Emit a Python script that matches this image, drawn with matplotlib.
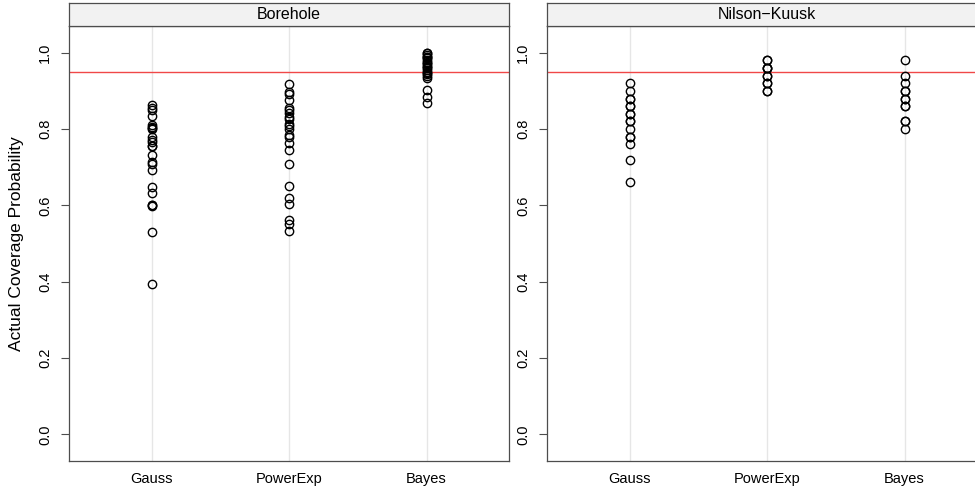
import matplotlib
matplotlib.use("Agg")
import matplotlib.pyplot as plt

plt.rcParams['font.family'] = ['Liberation Sans', 'DejaVu Sans']

methods = ['Gauss', 'PowerExp', 'Bayes']
panels = ['Borehole', 'Nilson\u2212Kuusk']

# coverage values
bore_gauss = [0.862, 0.856, 0.849, 0.834, 0.810, 0.806, 0.802, 0.799, 0.779,
              0.772, 0.766, 0.755, 0.755, 0.731, 0.714, 0.708, 0.692, 0.648,
              0.632, 0.600, 0.600, 0.598, 0.530, 0.395]
bore_powexp = [0.919, 0.897, 0.891, 0.877, 0.854, 0.849, 0.842, 0.832, 0.825,
               0.814, 0.807, 0.799, 0.784, 0.779, 0.764, 0.746, 0.708, 0.650,
               0.620, 0.603, 0.561, 0.550, 0.532]
bore_bayes = [1.000, 0.998, 0.995, 0.990, 0.988, 0.985, 0.980, 0.975, 0.972,
              0.970, 0.965, 0.962, 0.960, 0.955, 0.950, 0.948, 0.945, 0.940,
              0.935, 0.902, 0.884, 0.867]
nk_gauss = [0.92, 0.90, 0.88, 0.88, 0.86, 0.86, 0.84, 0.84, 0.82, 0.82, 0.80,
            0.78, 0.78, 0.76, 0.72, 0.66]
nk_powexp = [0.98, 0.98, 0.96, 0.96, 0.96, 0.94, 0.94, 0.92, 0.92, 0.90, 0.90]
nk_bayes = [0.98, 0.94, 0.92, 0.90, 0.90, 0.88, 0.88, 0.86, 0.86, 0.82, 0.82, 0.80]

data = [[bore_gauss, bore_powexp, bore_bayes], [nk_gauss, nk_powexp, nk_bayes]]
nominal = 0.95

fig = plt.figure(figsize=(9.75, 4.88), dpi=100)
W, H = 975.0, 488.0
lefts = [69, 547]
pw = 440
top, bot, strip_top = 26, 461, 3
edge = '#4d4d4d'

for k in range(2):
    ax = fig.add_axes([lefts[k] / W, 1 - bot / H, pw / W, (bot - top) / H])
    st = fig.add_axes([lefts[k] / W, 1 - top / H, pw / W, (top - strip_top) / H])
    for j, vals in enumerate(data[k]):
        ax.axvline(j + 1, color='#e6e6e6', lw=1, zorder=0)
        ax.plot([j + 1] * len(vals), vals, 'o', mfc='none', mec='black',
                ms=6.0, mew=1.0, zorder=3)
    ax.axhline(nominal, color='#f04848', lw=1, zorder=2)
    ax.set_xlim(0.4, 3.6)
    ax.set_ylim(-0.07, 1.07)
    ax.set_xticks([1, 2, 3])
    ax.set_xticklabels(methods, fontsize=10.5)
    ax.set_yticks([0, 0.2, 0.4, 0.6, 0.8, 1.0])
    ax.set_yticklabels(['0.0', '0.2', '0.4', '0.6', '0.8', '1.0'],
                       rotation=90, va='center', fontsize=10.5)
    ax.tick_params(axis='y', length=6, color=edge, width=0.8, pad=6)
    ax.tick_params(axis='x', length=0, pad=8)
    for s in ax.spines.values():
        s.set_color(edge)
        s.set_linewidth(0.9)

    st.set_facecolor('#f2f2f2')
    st.set_xticks([])
    st.set_yticks([])
    for s in st.spines.values():
        s.set_color(edge)
        s.set_linewidth(0.9)
    st.text(0.5, 0.5, panels[k], ha='center', va='center', fontsize=11.5,
            transform=st.transAxes)

    if k == 0:
        ax.set_ylabel('Actual Coverage Probability', fontsize=12.5, labelpad=10)

fig.savefig('out.png', dpi=100)
